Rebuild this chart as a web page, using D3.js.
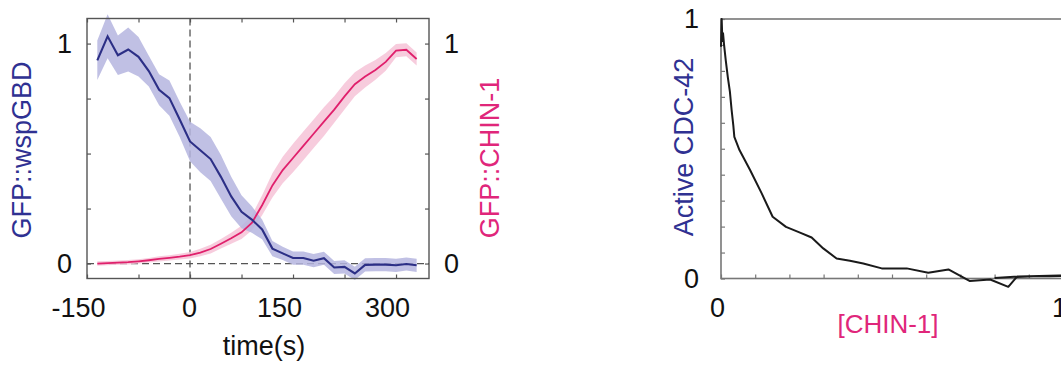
<!DOCTYPE html>
<html>
<head>
<meta charset="utf-8">
<script src="https://cdn.jsdelivr.net/npm/d3@7/dist/d3.min.js"></script>
<style>
  html, body { margin: 0; padding: 0; background: #fff; }
  svg { display: block; font-family: "Liberation Sans", Arial, Helvetica, sans-serif; }
</style>
</head>
<body>
<svg id="chart" width="1061" height="366"></svg>
<script>
// ---------------- data ----------------
// Left panel: time course (s)
const times = d3.range(-135, 331, 15); // sample times of the recording (every 15 s)
const wspGBD = [0.924, 1.033, 0.947, 0.973, 0.940, 0.875, 0.790, 0.752, 0.655, 0.555,
                0.515, 0.475, 0.394, 0.305, 0.235, 0.200, 0.155, 0.068, 0.046, 0.025,
                0.025, 0.013, 0.024, -0.018, -0.015, -0.045, -0.006, -0.005, -0.005, -0.008,
                -0.002, -0.008];
const wspGBDErr = [0.09, 0.10, 0.09, 0.10, 0.09, 0.07, 0.07, 0.08, 0.08, 0.09,
                   0.10, 0.10, 0.10, 0.09, 0.075, 0.06, 0.045, 0.035, 0.03, 0.03,
                   0.03, 0.03, 0.03, 0.03, 0.03, 0.03, 0.03, 0.03, 0.03, 0.03,
                   0.03, 0.03];
const chin1 = [0.000, 0.002, 0.004, 0.006, 0.010, 0.015, 0.021, 0.026, 0.031, 0.038,
               0.050, 0.066, 0.090, 0.115, 0.142, 0.185, 0.265, 0.355, 0.425, 0.480,
               0.535, 0.590, 0.645, 0.700, 0.760, 0.815, 0.850, 0.880, 0.917, 0.968,
               0.972, 0.930];
const chin1Err = [0.01, 0.01, 0.01, 0.01, 0.01, 0.01, 0.012, 0.012, 0.013, 0.015,
                  0.017, 0.02, 0.022, 0.025, 0.03, 0.035, 0.045, 0.055, 0.06, 0.065,
                  0.065, 0.065, 0.065, 0.06, 0.06, 0.055, 0.05, 0.045, 0.04, 0.03,
                  0.03, 0.03];
const timeTicks = [-150, -75, 0, 75, 150, 225, 300];
const timeTickLabels = [-150, 0, 150, 300];
const levelTicks = [0, 0.25, 0.5, 0.75, 1];
const levelTickLabels = [0, 1];

// Right panel: Active CDC-42 vs [CHIN-1]
const chinConc = [0.000, 0.002, 0.004, 0.006, 0.009, 0.014, 0.020, 0.026, 0.031, 0.036,
                  0.039, 0.054, 0.085, 0.119, 0.151, 0.190, 0.231, 0.265, 0.299, 0.338,
                  0.377, 0.416, 0.470, 0.543, 0.606, 0.665, 0.728, 0.787, 0.840, 0.865,
                  0.913, 0.962, 1.000, 0.990, 0.930, 0.870, 0.800];
const activeCdc42 = [0.893, 1.000, 0.915, 0.945, 0.900, 0.840, 0.775, 0.720, 0.650, 0.590,
                     0.546, 0.495, 0.418, 0.328, 0.238, 0.199, 0.177, 0.158, 0.116, 0.077,
                     0.068, 0.058, 0.039, 0.039, 0.022, 0.035, -0.010, -0.004, -0.032, 0.006,
                     0.009, 0.009, 0.010, 0.012, 0.010, 0.008, 0.002];
const concTicks = d3.range(0, 11).map(d => d / 10);
const concTickLabels = [0, 1];
const cdcTicks = d3.range(0, 11).map(d => d / 10);
const cdcTickLabels = [0, 1];

// ---------------- drawing ----------------
const svg = d3.select("#chart");
const BLUE = "#2c2f86", BLUE_BAND = "#b5b5df";
const PINK = "#e0206c", PINK_BAND = "#f6c3d7";
const LABEL_BLUE = "#2f3192", LABEL_PINK = "#e0267a";
const FS = 27;

// ----- left panel -----
const L = { left: 87, right: 429, top: 18.5, bottom: 278.5 };
const x = d3.scaleLinear().domain([-150, 348]).range([L.left, L.right]);
const y = d3.scaleLinear().domain([-0.068, 1.114]).range([L.bottom, L.top]);

const gL = svg.append("g");

const bandGen = (vals, errs) => d3.area()
  .x((d, i) => x(times[i]))
  .y0((d, i) => y(vals[i] - errs[i]))
  .y1((d, i) => y(vals[i] + errs[i]));
const lineGen = vals => d3.line().x((d, i) => x(times[i])).y((d, i) => y(vals[i]));

// dashed reference lines
gL.append("line").attr("x1", x(0)).attr("x2", x(0)).attr("y1", L.top).attr("y2", L.bottom)
  .attr("stroke", "#555").attr("stroke-width", 1.3).attr("stroke-dasharray", "7,4");
gL.append("line").attr("x1", L.left).attr("x2", L.right).attr("y1", y(0)).attr("y2", y(0))
  .attr("stroke", "#555").attr("stroke-width", 1.3).attr("stroke-dasharray", "7,4");

gL.append("path").datum(chin1).attr("d", bandGen(chin1, chin1Err)).attr("fill", PINK_BAND).attr("opacity", 0.85);
gL.append("path").datum(wspGBD).attr("d", bandGen(wspGBD, wspGBDErr)).attr("fill", BLUE_BAND).attr("opacity", 0.85);
gL.append("path").datum(chin1).attr("d", lineGen(chin1)).attr("fill", "none").attr("stroke", PINK).attr("stroke-width", 1.8);
gL.append("path").datum(wspGBD).attr("d", lineGen(wspGBD)).attr("fill", "none").attr("stroke", BLUE).attr("stroke-width", 2.1);

// axes
const fmtSel = (keep) => d => keep.includes(d) ? String(d) : "";
const xShift = { "-150": -9, "0": -1, "150": -14, "300": -9 };

const axB = gL.append("g").attr("transform", `translate(0,${L.bottom})`)
  .call(d3.axisBottom(x).tickValues(timeTicks).tickSizeInner(-4).tickSizeOuter(0)
    .tickPadding(19).tickFormat(fmtSel(timeTickLabels)));
axB.selectAll("text").attr("dx", d => xShift[String(d)] || 0);
const axT = gL.append("g").attr("transform", `translate(0,${L.top})`)
  .call(d3.axisTop(x).tickValues(timeTicks).tickSizeInner(-4).tickSizeOuter(0).tickFormat(""));
const axLft = gL.append("g").attr("transform", `translate(${L.left},0)`)
  .call(d3.axisLeft(y).tickValues(levelTicks).tickSizeInner(-4).tickSizeOuter(0)
    .tickPadding(15).tickFormat(fmtSel(levelTickLabels)));
const axRgt = gL.append("g").attr("transform", `translate(${L.right},0)`)
  .call(d3.axisRight(y).tickValues(levelTicks).tickSizeInner(-4).tickSizeOuter(0)
    .tickPadding(15).tickFormat(fmtSel(levelTickLabels)));
[axB, axT, axLft, axRgt].forEach(a => {
  a.select(".domain").remove();
  a.selectAll(".tick line").attr("stroke", "#555").attr("stroke-width", 1.2);
  a.selectAll("text").attr("font-size", FS).attr("fill", "#111")
    .attr("font-family", "'Liberation Sans', Arial, sans-serif");
});

gL.append("rect").attr("x", L.left).attr("y", L.top)
  .attr("width", L.right - L.left).attr("height", L.bottom - L.top)
  .attr("fill", "none").attr("stroke", "#555").attr("stroke-width", 1.4);

gL.append("text").attr("x", 264).attr("y", 355).attr("text-anchor", "middle")
  .attr("font-size", FS).attr("fill", "#111").text("time(s)");
gL.append("text").attr("transform", "translate(31,150) rotate(-90)").attr("text-anchor", "middle")
  .attr("font-size", FS).attr("fill", LABEL_BLUE).text("GFP::wspGBD");
gL.append("text").attr("transform", "translate(499,158) rotate(-90)").attr("text-anchor", "middle")
  .attr("font-size", FS).attr("fill", LABEL_PINK).text("GFP::CHIN-1");

// ----- right panel -----
const R = { left: 721, right: 1063, top: 19, bottom: 278.5 };
const x2 = d3.scaleLinear().domain([0, 1]).range([R.left, R.right]);
const y2 = d3.scaleLinear().domain([0, 1]).range([R.bottom, R.top]);
const gR = svg.append("g");

const ax2B = gR.append("g").attr("transform", `translate(0,${R.bottom})`)
  .call(d3.axisBottom(x2).tickValues(concTicks).tickSizeInner(-4).tickSizeOuter(0)
    .tickPadding(19).tickFormat(fmtSel(concTickLabels)));
ax2B.selectAll("text").attr("dx", -4);
const ax2L = gR.append("g").attr("transform", `translate(${R.left},0)`)
  .call(d3.axisLeft(y2).tickValues(cdcTicks).tickSizeInner(-4).tickSizeOuter(0)
    .tickPadding(22).tickFormat(fmtSel(cdcTickLabels)));
[ax2B, ax2L].forEach(a => {
  a.select(".domain").remove();
  a.selectAll(".tick line").attr("stroke", "#777").attr("stroke-width", 1.2);
  a.selectAll("text").attr("font-size", FS).attr("fill", "#111")
    .attr("font-family", "'Liberation Sans', Arial, sans-serif");
});

gR.append("rect").attr("x", R.left).attr("y", R.top)
  .attr("width", R.right - R.left).attr("height", R.bottom - R.top)
  .attr("fill", "none").attr("stroke", "#777").attr("stroke-width", 1.6);

gR.append("path").datum(chinConc)
  .attr("d", d3.line().x((d, i) => x2(chinConc[i])).y((d, i) => y2(activeCdc42[i])))
  .attr("fill", "none").attr("stroke", "#1a1a1a").attr("stroke-width", 2)
  .attr("stroke-linejoin", "round");

gR.append("text").attr("x", 888).attr("y", 333).attr("text-anchor", "middle")
  .attr("font-size", 26).attr("fill", LABEL_PINK).text("[CHIN-1]");
gR.append("text").attr("transform", "translate(693,147) rotate(-90)").attr("text-anchor", "middle")
  .attr("font-size", 27).attr("fill", LABEL_BLUE).text("Active CDC-42");
</script>
</body>
</html>
